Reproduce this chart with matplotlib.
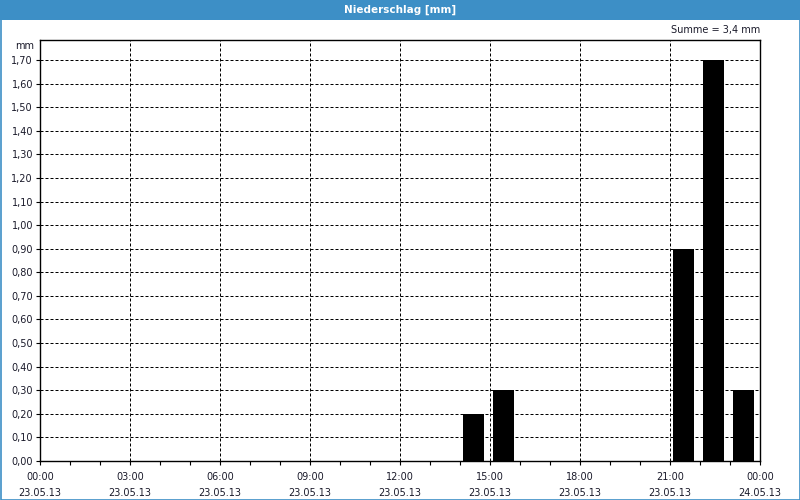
import numpy as np
import matplotlib.pyplot as plt
from matplotlib.patches import Rectangle
from matplotlib.ticker import MultipleLocator, FuncFormatter

# hourly precipitation, 23.05.13 (hour of day -> mm)
hours = [14, 15, 21, 22, 23]
precip = [0.2, 0.3, 0.9, 1.7, 0.3]
tick_hours = [0, 3, 6, 9, 12, 15, 18, 21, 24]
tick_labels = ['00:00\n23.05.13', '03:00\n23.05.13', '06:00\n23.05.13',
               '09:00\n23.05.13', '12:00\n23.05.13', '15:00\n23.05.13',
               '18:00\n23.05.13', '21:00\n23.05.13', '00:00\n24.05.13']

plt.rcParams['font.family'] = ['DejaVu Sans']
blue = '#3d8fc6'
txt = '#1a1a2a'

fig = plt.figure(figsize=(8, 5), dpi=100)
fig.patch.set_facecolor('white')

# title bar and frame
fig.patches.append(Rectangle((0, 1 - 20 / 500), 1, 20 / 500, transform=fig.transFigure,
                             facecolor=blue, edgecolor='none', zorder=0))
fig.patches.append(Rectangle((0.5 / 800, 0.5 / 500), 1 - 1 / 800, 1 - 1 / 500,
                             transform=fig.transFigure, facecolor='none',
                             edgecolor=blue, linewidth=1.2, zorder=0))
fig.text(0.5, 1 - 10 / 500, 'Niederschlag [mm]', color='white', fontsize=7.5,
         fontweight='bold', ha='center', va='center')

ax = fig.add_axes([40 / 800, 1 - 461 / 500, 720 / 800, 421 / 500])
ax.bar(np.array(hours) + 0.1, precip, width=0.7, align='edge', color='black', zorder=3)

ax.set_xlim(0, 24)
ax.set_ylim(0, max(precip) * 1.05)
ax.set_xticks(tick_hours)
ax.set_xticklabels(tick_labels, fontsize=7, color=txt, linespacing=1.7)
ax.xaxis.set_minor_locator(MultipleLocator(1))
ax.yaxis.set_major_locator(MultipleLocator(0.1))
ax.yaxis.set_major_formatter(FuncFormatter(lambda v, p: f'{v:.2f}'.replace('.', ',')))
ax.tick_params(axis='y', labelsize=7, colors='black', labelcolor=txt, length=3,
               width=0.8, pad=2)
ax.tick_params(axis='x', which='major', length=3, width=0.8, pad=5)
ax.tick_params(axis='x', which='minor', length=3, width=0.8)

ax.grid(True, which='major', color='black', linestyle=(0, (3, 2)), linewidth=0.72, zorder=1)
for s in ax.spines.values():
    s.set_linewidth(1.0)
    s.set_color('black')

ax.text(1.0, 1.012, 'Summe = 3,4 mm', transform=ax.transAxes, ha='right', va='bottom',
        fontsize=7, color=txt)
ax.text(-0.008, 0.985, 'mm', transform=ax.transAxes, ha='right', va='center',
        fontsize=7, color=txt)

fig.savefig('out.png', dpi=100)
